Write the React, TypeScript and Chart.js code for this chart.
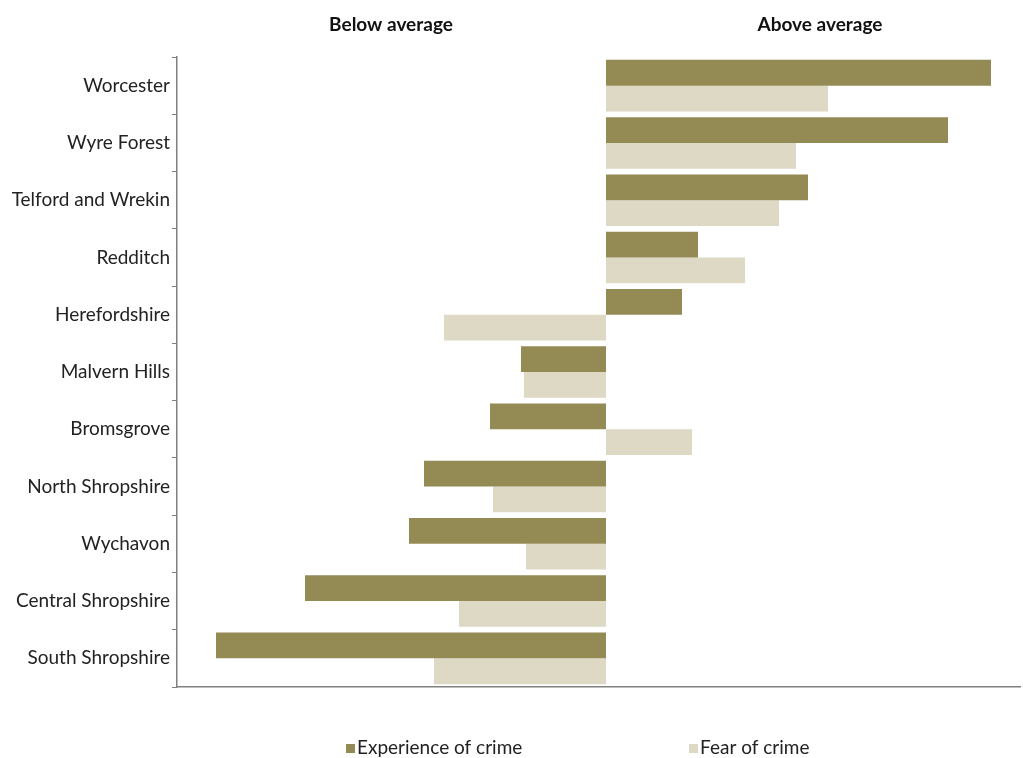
import React, { useEffect, useRef } from "react";
import { Chart, registerables } from "chart.js";

Chart.register(...registerables);

const categories = [
  "Worcester",
  "Wyre Forest",
  "Telford and Wrekin",
  "Redditch",
  "Herefordshire",
  "Malvern Hills",
  "Bromsgrove",
  "North Shropshire",
  "Wychavon",
  "Central Shropshire",
  "South Shropshire",
];

const experienceOfCrime = [3.85, 3.42, 2.02, 0.92, 0.76, -0.85, -1.16, -1.82, -1.97, -3.01, -3.9];
const fearOfCrime = [2.22, 1.9, 1.73, 1.39, -1.62, -0.82, 0.86, -1.13, -0.8, -1.47, -1.72];

const seriesNames = ["Experience of crime", "Fear of crime"];
const sideTitles = ["Below average", "Above average"];

const DARK = "#948A54";
const LIGHT = "#DDD9C4";
const FONT = "Lato, 'Open Sans', sans-serif";

export default function App() {
  const ref = useRef<HTMLCanvasElement | null>(null);

  useEffect(() => {
    if (!ref.current) return;
    const overlay = {
      id: "overlay",
      afterDraw(chart: any) {
        const ctx = chart.ctx;
        ctx.save();
        ctx.fillStyle = "#111";
        ctx.font = `bold 19px ${FONT}`;
        ctx.textAlign = "center";
        ctx.textBaseline = "middle";
        ctx.fillText(sideTitles[0], 391, 25);
        ctx.fillText(sideTitles[1], 820, 25);
        // legend
        ctx.font = `19px ${FONT}`;
        ctx.textAlign = "left";
        const items = [
          { x: 346, color: DARK, label: seriesNames[0] },
          { x: 689, color: LIGHT, label: seriesNames[1] },
        ];
        items.forEach((it) => {
          ctx.fillStyle = it.color;
          ctx.fillRect(it.x, 744, 9, 9);
          ctx.fillStyle = "#222";
          ctx.fillText(it.label, it.x + 11, 748);
        });
        ctx.restore();
      },
    };

    const chart = new Chart(ref.current, {
      type: "bar",
      data: {
        labels: categories,
        datasets: [
          {
            label: seriesNames[0],
            data: experienceOfCrime,
            backgroundColor: DARK,
            categoryPercentage: 0.9,
            barPercentage: 1.0,
          },
          {
            label: seriesNames[1],
            data: fearOfCrime,
            backgroundColor: LIGHT,
            categoryPercentage: 0.9,
            barPercentage: 1.0,
          },
        ],
      },
      options: {
        indexAxis: "y",
        animation: false,
        responsive: false,
        layout: { padding: { top: 57, right: 3, bottom: 70, left: 0 } },
        plugins: {
          legend: { display: false },
          tooltip: { enabled: false },
          title: { display: false },
        },
        scales: {
          x: {
            min: -4.29,
            max: 4.14,
            ticks: { display: false },
            grid: { display: false, drawTicks: false },
            border: { display: true, color: "#808080", width: 1.5 },
            afterFit(scale: any) {
              scale.height = 1;
            },
          },
          y: {
            ticks: {
              color: "#222",
              font: { family: FONT, size: 19 },
              padding: 2,
            },
            grid: {
              display: true,
              drawOnChartArea: false,
              drawTicks: true,
              tickLength: 5,
              color: "#808080",
              offset: true,
            },
            border: { display: true, color: "#808080", width: 1.5 },
            afterFit(scale: any) {
              scale.width = 177;
            },
          },
        },
      },
      plugins: [overlay],
    });
    return () => chart.destroy();
  }, []);

  return (
    <div style={{ position: "fixed", left: 0, top: 0, width: 1023, height: 758, background: "#fff" }}>
      <canvas ref={ref} width={1023} height={758} style={{ width: 1023, height: 758 }} />
    </div>
  );
}
